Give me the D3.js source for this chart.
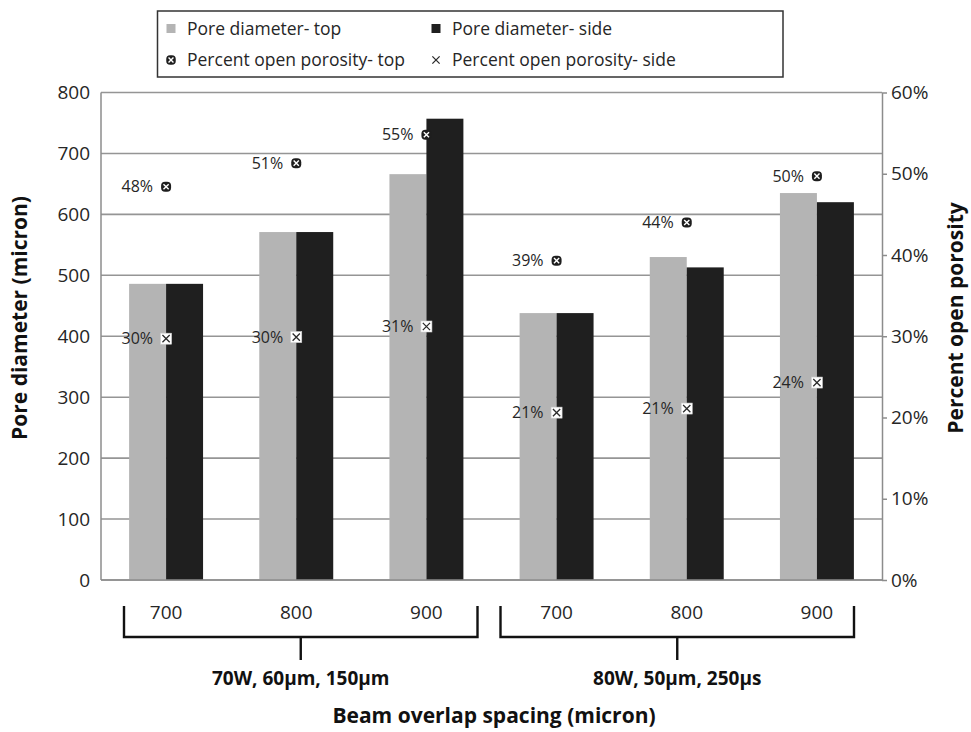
<!DOCTYPE html>
<html>
<head>
<meta charset="utf-8">
<script src="https://cdn.jsdelivr.net/npm/d3@7/dist/d3.min.js"></script>
<style>
  html, body { margin: 0; padding: 0; background: #fff; }
  svg { display: block; font-family: "Open Sans", "Noto Sans", sans-serif; }
</style>
</head>
<body>
<svg id="chart" width="971" height="732"></svg>
<script>
// Beam overlap spacing per build, two process-parameter groups
const spacing = ["700", "800", "900", "700", "800", "900"];
const groupOf = [0, 0, 0, 1, 1, 1];
const groupNames = ["70W, 60\u00b5m, 150\u00b5m", "80W, 50\u00b5m, 250\u00b5s"];

// Pore diameter (micron)
const poreTop  = [486, 571, 666, 438, 530, 635];
const poreSide = [486, 571, 757, 438, 513, 620];

// Percent open porosity (fraction)
const porosityTop  = [0.484, 0.513, 0.548, 0.393, 0.440, 0.497];
const porositySide = [0.297, 0.299, 0.312, 0.206, 0.211, 0.243];

const leftTicks  = [0, 100, 200, 300, 400, 500, 600, 700, 800];
const rightTicks = [0, 0.1, 0.2, 0.3, 0.4, 0.5, 0.6];

const seriesKeys = ["top", "side"];
const barColor = { top: "#b4b4b4", side: "#1f1f1f" };
const textColor = "#262626";

const svg = d3.select("#chart");
const plot = { left: 101, right: 882, top: 92.5, bottom: 580 };

const ids = spacing.map((s, i) => i);
const x0 = d3.scaleBand().domain(ids).range([plot.left, plot.right]).paddingInner(0).paddingOuter(0);
const x1 = d3.scaleBand().domain(seriesKeys).range([0, x0.bandwidth()]).paddingInner(0).paddingOuter(0.76);
const yL = d3.scaleLinear().domain([0, 800]).range([plot.bottom, plot.top]);
const yR = d3.scaleLinear().domain([0, 0.6]).range([plot.bottom, plot.top]);

// Horizontal gridlines at each left-axis tick
svg.append("g")
  .selectAll("line")
  .data(leftTicks)
  .join("line")
  .attr("x1", plot.left).attr("x2", plot.right)
  .attr("y1", d => yL(d)).attr("y2", d => yL(d))
  .attr("stroke", "#959595").attr("stroke-width", 1.6);

// Bars
const rows = ids.map(i => ({ i, top: poreTop[i], side: poreSide[i] }));
svg.append("g")
  .selectAll("g")
  .data(rows)
  .join("g")
  .attr("transform", d => `translate(${x0(d.i)},0)`)
  .selectAll("rect")
  .data(d => seriesKeys.map(k => ({ k, v: d[k] })))
  .join("rect")
  .attr("x", d => x1(d.k))
  .attr("width", x1.bandwidth())
  .attr("y", d => yL(d.v))
  .attr("height", d => yL(0) - yL(d.v))
  .attr("fill", d => barColor[d.k]);

// Axes frame
svg.append("line").attr("x1", plot.left).attr("x2", plot.left)
  .attr("y1", plot.top).attr("y2", plot.bottom).attr("stroke", "#8c8c8c").attr("stroke-width", 1.5);
svg.append("line").attr("x1", plot.left).attr("x2", plot.right)
  .attr("y1", plot.bottom).attr("y2", plot.bottom).attr("stroke", "#8c8c8c").attr("stroke-width", 1.5);

// Left axis
const axL = svg.append("g")
  .attr("transform", `translate(${plot.left},0)`)
  .call(d3.axisLeft(yL).tickValues(leftTicks).tickSize(0).tickPadding(11));
axL.select(".domain").remove();
axL.selectAll("text").attr("font-size", 19).attr("fill", textColor)
  .attr("font-family", "'Open Sans', sans-serif");

// Right axis
const axR = svg.append("g")
  .attr("transform", `translate(${plot.right},0)`)
  .call(d3.axisRight(yR).tickValues(rightTicks).tickFormat(d3.format(".0%")).tickSize(5).tickSizeOuter(0).tickPadding(4));
axR.select(".domain").attr("stroke", "#8c8c8c").attr("stroke-width", 1.5);
axR.selectAll(".tick line").attr("stroke", "#8c8c8c").attr("stroke-width", 1.5);
axR.selectAll("text").attr("font-size", 19).attr("fill", textColor)
  .attr("font-family", "'Open Sans', sans-serif");

// Porosity markers
function topMarker(g, s) {
  g.append("rect").attr("x", -s / 2).attr("y", -s / 2).attr("width", s).attr("height", s)
    .attr("rx", s * 0.4).attr("fill", "#1e1e1e");
  const h = s * 0.26;
  g.append("path").attr("d", `M${-h},${-h}L${h},${h}M${-h},${h}L${h},${-h}`)
    .attr("stroke", "#fff").attr("stroke-width", 1.4);
}
function sideMarker(g, s, boxed) {
  if (boxed) {
    g.append("rect").attr("x", -s / 2).attr("y", -s / 2).attr("width", s).attr("height", s)
      .attr("fill", "#fff").attr("stroke", "#d0d0d0").attr("stroke-width", 0.6);
  }
  const h = s * 0.33;
  g.append("path").attr("d", `M${-h},${-h}L${h},${h}M${-h},${h}L${h},${-h}`)
    .attr("stroke", "#2a2a2a").attr("stroke-width", 1.3);
}

const pct = d3.format(".0%");
const cx = i => x0(i) + x0.bandwidth() / 2;
const porositySets = [
  { values: porosityTop, draw: g => topMarker(g, 10) },
  { values: porositySide, draw: g => sideMarker(g, 11, true) }
];
porositySets.forEach(set => {
  set.values.forEach((v, i) => {
    const g = svg.append("g").attr("transform", `translate(${cx(i)},${yR(v)})`);
    set.draw(g);
    svg.append("text")
      .attr("x", cx(i) - 13).attr("y", yR(v)).attr("dy", "0.35em")
      .attr("text-anchor", "end").attr("font-size", 16).attr("fill", textColor)
      .text(pct(v));
  });
});

// Category labels
svg.append("g")
  .selectAll("text")
  .data(ids)
  .join("text")
  .attr("x", d => cx(d)).attr("y", 612).attr("dy", "0.35em")
  .attr("text-anchor", "middle").attr("font-size", 19).attr("fill", textColor)
  .text(d => spacing[d]);

// Group brackets
const bracketInset = [[23, 14], [9, 28]];
groupNames.forEach((name, gi) => {
  const members = ids.filter(i => groupOf[i] === gi);
  const xa = x0(members[0]) + bracketInset[gi][0];
  const xb = x0(members[members.length - 1]) + x0.bandwidth() - bracketInset[gi][1];
  const yTop = 606, yBar = 637, yStem = 660;
  svg.append("path")
    .attr("d", `M${xa},${yTop}V${yBar}H${xb}V${yTop}M${(xa + xb) / 2},${yBar}V${yStem}`)
    .attr("fill", "none").attr("stroke", "#111").attr("stroke-width", 2.4);
  svg.append("text")
    .attr("x", (xa + xb) / 2).attr("y", 678).attr("dy", "0.35em")
    .attr("text-anchor", "middle").attr("font-size", 19).attr("font-weight", "bold")
    .attr("fill", "#111").text(name);
});

// Axis titles
svg.append("text")
  .attr("x", 494).attr("y", 716).attr("dy", "0.35em")
  .attr("text-anchor", "middle").attr("font-size", 21).attr("font-weight", "bold")
  .attr("fill", "#111").text("Beam overlap spacing (micron)");
svg.append("text")
  .attr("transform", "translate(20,318) rotate(-90)").attr("dy", "0.35em")
  .attr("text-anchor", "middle").attr("font-size", 21).attr("font-weight", "bold")
  .attr("fill", "#111").text("Pore diameter (micron)");
svg.append("text")
  .attr("transform", "translate(956,318) rotate(-90)").attr("dy", "0.35em")
  .attr("text-anchor", "middle").attr("font-size", 21).attr("font-weight", "bold")
  .attr("fill", "#111").text("Percent open porosity");

// Legend
const legend = svg.append("g");
legend.append("rect").attr("x", 157.5).attr("y", 11).attr("width", 625.5).attr("height", 66)
  .attr("fill", "#fff").attr("stroke", "#333").attr("stroke-width", 1.5);
const legendItems = [
  { label: "Pore diameter- top", x: 171, y: 28.5, kind: "sq", color: barColor.top },
  { label: "Pore diameter- side", x: 436, y: 28.5, kind: "sq", color: barColor.side },
  { label: "Percent open porosity- top", x: 171, y: 60, kind: "top" },
  { label: "Percent open porosity- side", x: 436, y: 60, kind: "side" }
];
legendItems.forEach(it => {
  const g = legend.append("g").attr("transform", `translate(${it.x},${it.y})`);
  if (it.kind === "sq") {
    g.append("rect").attr("x", -4.5).attr("y", -4.5).attr("width", 9).attr("height", 9).attr("fill", it.color);
  } else if (it.kind === "top") {
    topMarker(g, 9.5);
  } else {
    sideMarker(g, 11, false);
  }
  legend.append("text").attr("x", it.x + 16).attr("y", it.y).attr("dy", "0.35em")
    .attr("font-size", 17.5).attr("fill", textColor).text(it.label);
});
</script>
</body>
</html>
